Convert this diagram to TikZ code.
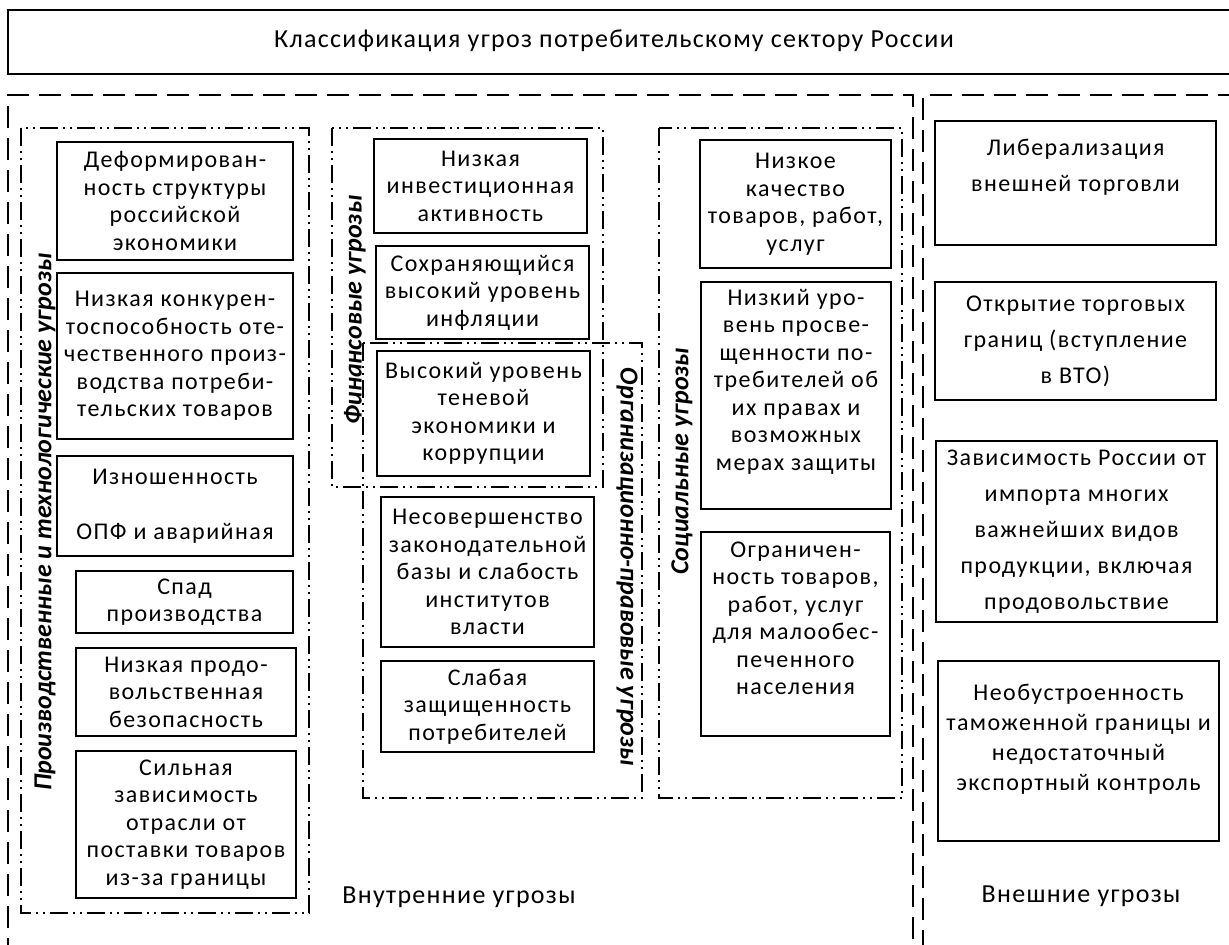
\documentclass[tikz,border=0pt]{standalone}
\usepackage{fontspec}
\setmainfont{Carlito}
\newfontfamily\boxfont[LetterSpace=6]{Carlito}
\newfontfamily\capfont[LetterSpace=5]{Carlito}
\begin{document}
\begin{tikzpicture}[x=0.5pt,y=-0.5pt,
    box/.style={draw, line width=1pt, align=center, inner sep=2pt,
      font=\boxfont\fontsize{12}{13.75}\selectfont},
    wide/.style={box, font=\boxfont\fontsize{12}{18}\selectfont},
    grp/.style={line width=1pt, dash pattern=on 9pt off 2.5pt on 1pt off 2.5pt on 1pt off 2.5pt},
    outer/.style={line width=1pt, dash pattern=on 11pt off 5pt},
    grplabel/.style={font=\fontsize{13}{15}\selectfont\bfseries\itshape},
    caption/.style={font=\capfont\fontsize{13}{16}\selectfont}]
  \useasboundingbox (0,0) rectangle (1229,944);

  % title
  \draw[line width=1pt] (8,10) rectangle (1240,74);
  \node[caption] (title) at (614,41) {Классификация угроз потребительскому сектору России};

  % internal and external threats
  \draw[outer] (8,960) -- (8,95) -- (913,95) -- (913,960);
  \draw[outer] (1240,95) -- (923,95) -- (923,960);
  \node[caption] (inner) at (459,897) {Внутренние угрозы};
  \node[caption] (outer) at (1081,896) {Внешние угрозы};

  % groups
  \draw[grp] (21,128) rectangle (309,913);
  \draw[grp] (332,128) rectangle (603,487);
  \draw[grp] (363,343) rectangle (642,798);
  \draw[grp] (659,128) rectangle (902,798);
  \node[grplabel, rotate=90] (prodlabel) at (45,522) {Производственные и технологические угрозы};
  \node[grplabel, rotate=90] (finlabel) at (355,310) {Финансовые угрозы};
  \node[grplabel, rotate=-90] (orglabel) at (627,567) {Организационно-правовые угрозы};
  \node[grplabel, rotate=90] (soclabel) at (682,461) {Социальные угрозы};

  % production and technology
  \node[box, minimum width=118pt, minimum height=59pt] (deform) at (175,201)
    {Деформирован-\\ность структуры\\российской\\экономики};
  \node[box, minimum width=118pt, minimum height=83pt] (konkur) at (175,356)
    {Низкая конкурен-\\тоспособность оте-\\чественного произ-\\водства потреби-\\тельских товаров};
  \node[box, minimum width=118pt, minimum height=50pt] (iznos) at (175,506)
    {Изношенность\\[13.75pt]ОПФ и аварийная};
  \node[box, minimum width=108.5pt, minimum height=31pt] (spad) at (184.5,602)
    {Спад\\производства};
  \node[box, minimum width=110pt, minimum height=44pt] (prodo) at (186,692)
    {Низкая продо-\\вольственная\\безопасность};
  \node[box, minimum width=110pt, minimum height=73.5pt] (zavis) at (186,824.5)
    {Сильная\\зависимость\\отрасли от\\поставки товаров\\из-за границы};

  % finance
  \node[box, minimum width=106.5pt, minimum height=47pt] (invest) at (480.5,186)
    {Низкая\\инвестиционная\\активность};
  \node[box, minimum width=106.5pt, minimum height=46.5pt] (infl) at (482.5,292.5)
    {Сохраняющийся\\высокий уровень\\инфляции};
  \node[box, minimum width=106.5pt, minimum height=62.5pt] (tenev) at (483.5,413.5)
    {Высокий уровень\\теневой\\экономики и\\коррупции};

  % organization and law
  \node[box, minimum width=106.5pt, minimum height=75pt] (zakon) at (487.5,572)
    {Несовершенство\\законодательной\\базы и слабость\\институтов\\власти};
  \node[box, minimum width=106.5pt, minimum height=45.5pt] (slab) at (487.5,706.5)
    {Слабая\\защищенность\\потребителей};

  % social
  \node[box, minimum width=95.5pt, minimum height=64pt] (kach) at (795.5,204)
    {Низкое\\качество\\товаров, работ,\\услуг};
  \node[box, minimum width=95pt, minimum height=113.5pt] (prosv) at (796,395.5)
    {Низкий уро-\\вень просве-\\щенности по-\\требителей об\\их правах и\\возможных\\мерах защиты\\[2pt]};
  \node[box, minimum width=94.5pt, minimum height=102pt] (ogran) at (795.5,634)
    {Ограничен-\\ность товаров,\\работ, услуг\\для малообес-\\печенного\\населения\\[2pt]};

  % external
  \node[wide, minimum width=140.5pt, minimum height=62pt] (liber) at (1075.5,183)
    {Либерализация\\внешней торговли\\};
  \node[wide, minimum width=140.5pt, minimum height=59pt] (otkr) at (1075.5,341)
    {Открытие торговых\\границ (вступление\\в ВТО)};
  \node[wide, minimum width=140.5pt, minimum height=90.5pt] (import) at (1076.5,531.5)
    {Зависимость России от\\импорта многих\\важнейших видов\\продукции, включая\\продовольствие};
  \node[box, minimum width=140.5pt, minimum height=90pt, font=\boxfont\fontsize{12}{15}\selectfont] (neob) at (1078.5,751)
    {Необустроенность\\таможенной границы и\\недостаточный\\экспортный контроль\\[-1pt]};
\end{tikzpicture}
\end{document}
